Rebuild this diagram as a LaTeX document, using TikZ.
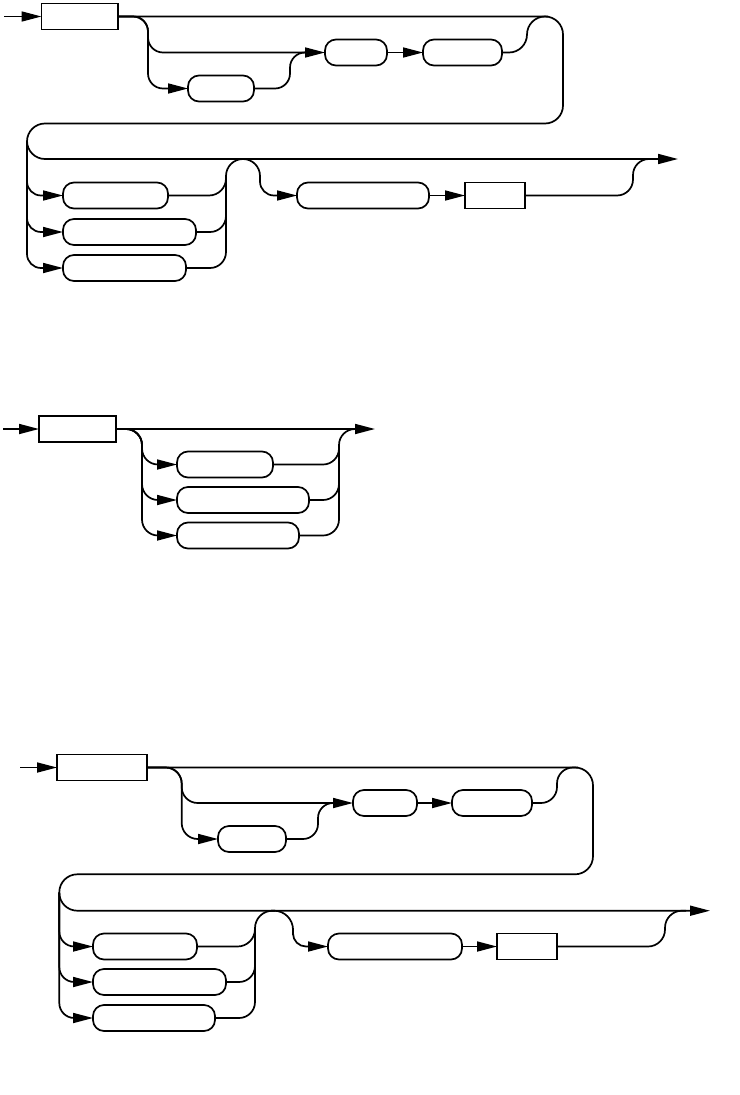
\documentclass[tikz,border=0pt]{standalone}
\usetikzlibrary{arrows.meta}
\begin{document}
\begin{tikzpicture}[x=1pt,y=-1pt, line width=1.7pt,
  box/.style={draw, minimum height=26pt, inner sep=0pt, outer sep=0pt},
  rbox/.style={box, rounded corners=11pt},
  arr/.style={-{Triangle[length=20pt,width=10pt]}}]
\useasboundingbox (0,0) rectangle (739,1095);

% ---------------- Diagram 1 ----------------
\node[box, minimum width=76.5pt] (r1) at (79.75,16.5) {};
\node[rbox, minimum width=66pt] (f1) at (221,88.5) {};
\node[rbox, minimum width=62pt] (g1) at (356,52.5) {};
\node[rbox, minimum width=79pt] (h1) at (462.5,52.5) {};
\node[rbox, minimum width=105pt] (a1) at (115.5,195.5) {};
\node[rbox, minimum width=133pt] (b1) at (129.5,232) {};
\node[rbox, minimum width=123pt] (c1) at (124.5,268) {};
\node[rbox, minimum width=132pt] (d1) at (363,195.5) {};
\node[box, minimum width=60pt] (e1) at (495,195.5) {};
\coordinate (in1) at (4,16.5);
\coordinate (out1) at (678,159);

\draw[arr] (in1) -- (r1.west);
\draw[arr, rounded corners=18pt] (r1.east) -- (563,16.5) |- (27,123.5) |- (out1);
\draw[arr, rounded corners=15pt] (r1.east) -| (148,88.5) -- (f1.west);
\draw[arr, rounded corners=15pt] (r1.east) -| (148,52.5) -- (g1.west);
\draw[rounded corners=15pt] (f1.east) -| (290,52.5) -- (310,52.5);
\draw[arr] (g1.east) -- (h1.west);
\draw[rounded corners=18pt] (h1.east) -| (527,16.5) -- (548,16.5);
\draw[arr, rounded corners=14pt] (27,141) |- (a1.west);
\draw[arr, rounded corners=14pt] (27,141) |- (b1.west);
\draw[arr, rounded corners=14pt] (27,141) |- (c1.west);
\draw[rounded corners=17pt] (a1.east) -| (226,159) -- (245,159);
\draw[rounded corners=16pt] (b1.east) -| (226,176);
\draw[rounded corners=16pt] (c1.east) -| (226,176);
\draw[rounded corners=17pt] (241,159) -| (260,182);
\draw[arr, rounded corners=14pt] (260,176) |- (d1.west);
\draw[arr] (d1.east) -- (e1.west);
\draw[rounded corners=16pt] (e1.east) -| (633,159) -- (652,159);

% ---------------- Diagram 2 ----------------
\node[box, minimum width=77pt] (r2) at (77.5,429) {};
\node[rbox, minimum width=96pt] (p2) at (225,464.5) {};
\node[rbox, minimum width=132pt] (q2) at (243,500) {};
\node[rbox, minimum width=122pt] (s2) at (238,535.5) {};
\coordinate (in2) at (3,429);
\coordinate (out2) at (375,429);

\draw[arr] (in2) -- (r2.west);
\draw[arr] (r2.east) -- (out2);
\draw[arr, rounded corners=16pt] (r2.east) -| (142,464.5) -- (p2.west);
\draw[arr, rounded corners=16pt] (r2.east) -| (142,500) -- (q2.west);
\draw[arr, rounded corners=16pt] (r2.east) -| (142,535.5) -- (s2.west);
\draw[rounded corners=16pt] (p2.east) -| (339,429) -- (358,429);
\draw[rounded corners=16pt] (q2.east) -| (339,445);
\draw[rounded corners=16pt] (s2.east) -| (339,445);

% ---------------- Diagram 3 ----------------
\node[box, minimum width=90pt] (r3) at (102,767.5) {};
\node[rbox, minimum width=68pt] (f3) at (252,839) {};
\node[rbox, minimum width=64pt] (g3) at (385,803) {};
\node[rbox, minimum width=80pt] (h3) at (492,803) {};
\node[rbox, minimum width=104pt] (a3) at (145,946.5) {};
\node[rbox, minimum width=133pt] (b3) at (159.5,982) {};
\node[rbox, minimum width=122pt] (c3) at (154,1018) {};
\node[rbox, minimum width=134pt] (d3) at (395,946.5) {};
\node[box, minimum width=60pt] (e3) at (527,946.5) {};
\coordinate (in3) at (20,767.5);
\coordinate (out3) at (710,910.7);

\draw[arr] (in3) -- (r3.west);
\draw[arr, rounded corners=18pt] (r3.east) -- (593,767.5) |- (59.3,874.3) |- (out3);
\draw[arr, rounded corners=16pt] (r3.east) -| (181.7,839) -- (f3.west);
\draw[arr, rounded corners=16pt] (r3.east) -| (181.7,803) -- (g3.west);
\draw[rounded corners=15pt] (f3.east) -| (318,803) -- (338,803);
\draw[arr] (g3.east) -- (h3.west);
\draw[rounded corners=16pt] (h3.east) -| (557,767.5) -- (578,767.5);
\draw[arr, rounded corners=15pt] (59.3,892.5) |- (a3.west);
\draw[arr, rounded corners=15pt] (59.3,892.5) |- (b3.west);
\draw[arr, rounded corners=15pt] (59.3,892.5) |- (c3.west);
\draw[rounded corners=17.5pt] (a3.east) -| (255,910.7) -- (275,910.7);
\draw[rounded corners=16pt] (b3.east) -| (255,930);
\draw[rounded corners=16pt] (c3.east) -| (255,930);
\draw[rounded corners=19pt] (271,910.7) -| (293,935);
\draw[arr, rounded corners=13pt] (293,928) |- (d3.west);
\draw[arr] (d3.east) -- (e3.west);
\draw[rounded corners=17pt] (e3.east) -| (665,910.7) -- (686,910.7);
\end{tikzpicture}
\end{document}
